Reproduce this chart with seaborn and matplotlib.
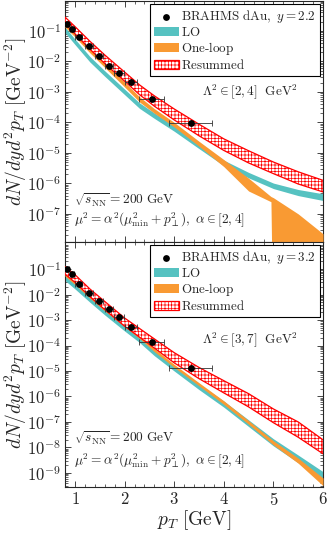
import numpy as np
import matplotlib
matplotlib.use("Agg")
import matplotlib.pyplot as plt
import matplotlib.ticker as mticker
import seaborn as sns

# BRAHMS dAu data points
pt_data = [0.84, 0.93, 1.08, 1.28, 1.48, 1.68, 1.88, 2.13, 2.55, 3.33]
pt_err = [0.03, 0.04, 0.07, 0.08, 0.08, 0.08, 0.10, 0.12, 0.25, 0.43]
yield_y22 = [0.173, 0.116, 0.065, 0.0316, 0.0145, 0.0071, 0.0043, 0.0021, 5.9e-4, 9.3e-5]
yield_y32 = [0.098, 0.064, 0.026, 0.0118, 0.0056, 0.0027, 0.0013, 5.2e-4, 1.4e-4, 1.35e-5]

# theory bands, log10 of dN/dyd^2pT (lower, upper)
pt_grid = [0.8, 1.0, 1.3, 1.6, 2.0, 2.3, 2.6, 3.0, 3.5, 4.0, 4.5, 5.0, 5.5, 6.0]

lo_y22_lo = [-1.06, -1.45, -2.02, -2.49, -3.09, -3.54, -3.87, -4.29, -4.86, -5.42, -5.82, -6.17, -6.40, -6.56]
lo_y22_hi = [-0.88, -1.27, -1.84, -2.31, -2.91, -3.36, -3.69, -4.11, -4.68, -5.24, -5.64, -5.99, -6.20, -6.34]
res_y22_lo = [-0.77, -1.10, -1.60, -2.07, -2.65, -3.09, -3.47, -3.92, -4.44, -4.92, -5.33, -5.68, -6.02, -6.28]
res_y22_hi = [-0.55, -0.86, -1.34, -1.79, -2.35, -2.77, -3.13, -3.56, -4.06, -4.54, -4.93, -5.30, -5.62, -5.90]

pt_1loop_y22 = [0.8, 1.0, 1.3, 1.6, 2.0, 2.3, 2.6, 3.0, 3.5, 4.0, 4.5, 4.95, 5.0, 5.5, 6.0]
oneloop_y22_lo = [-0.88, -1.20, -1.72, -2.20, -2.84, -3.33, -3.70, -4.15, -4.78, -5.45, -6.25, -6.60, -12, -12, -12]
oneloop_y22_hi = [-0.74, -1.07, -1.57, -2.05, -2.68, -3.16, -3.55, -4.00, -4.62, -5.22, -5.83, -6.43, -6.47, -7.00, -7.65]

lo_y32_lo = [-1.45, -1.78, -2.30, -2.80, -3.43, -3.88, -4.40, -5.00, -5.73, -6.42, -7.18, -7.94, -8.60, -9.35]
lo_y32_hi = [-1.25, -1.58, -2.10, -2.60, -3.23, -3.68, -4.20, -4.80, -5.51, -6.18, -6.92, -7.66, -8.30, -8.95]
oneloop_y32_lo = [-1.28, -1.61, -2.14, -2.64, -3.26, -3.72, -4.24, -4.86, -5.58, -6.31, -7.09, -7.90, -8.62, -9.50]
oneloop_y32_hi = [-1.16, -1.49, -2.02, -2.52, -3.14, -3.60, -4.12, -4.74, -5.46, -6.17, -6.95, -7.74, -8.42, -9.20]
res_y32_lo = [-1.20, -1.52, -2.08, -2.59, -3.24, -3.67, -4.10, -4.68, -5.30, -5.86, -6.41, -7.03, -7.60, -8.25]
res_y32_hi = [-0.90, -1.22, -1.78, -2.27, -2.92, -3.33, -3.74, -4.28, -4.86, -5.38, -5.89, -6.49, -7.00, -7.70]

sns.set_style("ticks")
plt.rcParams["font.family"] = "serif"
plt.rcParams["font.serif"] = ["cmr10", "DejaVu Serif"]
plt.rcParams["mathtext.fontset"] = "cm"
plt.rcParams["axes.formatter.use_mathtext"] = True
plt.rcParams["axes.unicode_minus"] = False
plt.rcParams["hatch.linewidth"] = 0.5

c_lo = "#56c2c1"
c_1l = "#f99a33"
c_res = "#ff0000"

fig = plt.figure(figsize=(3.32, 5.36), dpi=100)
ax1 = fig.add_axes([0.196, 0.5485, 0.777, 0.4496])
ax2 = fig.add_axes([0.196, 0.0914, 0.777, 0.457], sharex=ax1)

panels = [
    (ax1, yield_y22, lo_y22_lo, lo_y22_hi, pt_1loop_y22, oneloop_y22_lo, oneloop_y22_hi,
     res_y22_lo, res_y22_hi, "2.2", r"$\Lambda^2 \in [2,4]\ \ \mathrm{GeV}^2$", 1e-3,
     (1.2e-8, 0.95), [10.0**-k for k in range(1, 8)], (0.174, 0.095)),
    (ax2, yield_y32, lo_y32_lo, lo_y32_hi, pt_grid, oneloop_y32_lo, oneloop_y32_hi,
     res_y32_lo, res_y32_hi, "3.2", r"$\Lambda^2 \in [3,7]\ \ \mathrm{GeV}^2$", 1.7e-4,
     (2.8e-10, 1.15), [10.0**-k for k in range(1, 10)], (0.2, 0.11)),
]

for (ax, ydat, lo_l, lo_h, pt1, ol_l, ol_h, rs_l, rs_h, rap, lam, lam_y,
     ylim, yt, txt_y) in panels:
    ax.fill_between(pt_grid, 10.0**np.array(lo_l), 10.0**np.array(lo_h),
                    color=c_lo, lw=0, zorder=2, label="LO")
    ax.fill_between(pt1, 10.0**np.array(ol_l), 10.0**np.array(ol_h),
                    color=c_1l, lw=0, zorder=3, label="One-loop")
    ax.fill_between(pt_grid, 10.0**np.array(rs_l), 10.0**np.array(rs_h),
                    facecolor="white", edgecolor=c_res, hatch="+++++",
                    lw=0.9, zorder=4, label="Resummed")
    ax.errorbar(pt_data, ydat, xerr=pt_err, fmt="none", ecolor="#333333",
                elinewidth=0.6, capsize=2, capthick=0.6, zorder=5)
    sns.scatterplot(x=pt_data, y=ydat, ax=ax, color="black", s=24,
                    edgecolor="black", linewidth=0, zorder=6, label="BRAHMS")
    handles, labels = ax.get_legend_handles_labels()
    order = [labels.index(k) for k in ["BRAHMS", "LO", "One-loop", "Resummed"]]
    leg = ax.legend([handles[i] for i in order],
                    [r"$\mathrm{BRAHMS\ dAu},\ y = " + rap + "$",
                     r"$\mathrm{LO}$", r"$\mathrm{One}$-$\mathrm{loop}$", r"$\mathrm{Resummed}$"],
                    loc="upper right", fontsize=9.4, fancybox=False, framealpha=1,
                    edgecolor="black", borderaxespad=0.25, handlelength=1.9,
                    handletextpad=0.2, labelspacing=0.08, borderpad=0.3)
    leg.get_frame().set_linewidth(0.8)

    ax.text(4.53, lam_y, lam, fontsize=9.5, ha="center", va="center")
    ax.text(0.035, txt_y[0], r"$\sqrt{s_{\mathrm{NN}}} = 200\ \mathrm{GeV}$",
            transform=ax.transAxes, fontsize=9.6, va="center")
    ax.text(0.035, txt_y[1],
            r"$\mu^2 = \alpha^2(\mu^2_{\mathrm{min}} + p_{\perp}^2),\ \alpha \in [2,4]$",
            transform=ax.transAxes, fontsize=9.6, va="center")

    ax.set_yscale("log")
    ax.set_xlim(0.8, 6)
    ax.set_ylim(*ylim)
    ax.set_yticks(yt)
    ax.yaxis.set_minor_locator(mticker.LogLocator(base=10, subs=np.arange(2, 10), numticks=30))
    ax.yaxis.set_minor_formatter(mticker.NullFormatter())
    ax.xaxis.set_major_locator(mticker.MultipleLocator(1))
    ax.xaxis.set_minor_locator(mticker.MultipleLocator(0.2))
    ax.tick_params(which="both", direction="in", top=True, right=True, labelsize=12)
    ax.tick_params(which="major", length=4, width=0.6, pad=3)
    ax.tick_params(which="minor", length=2, width=0.5)
    for s in ax.spines.values():
        s.set_linewidth(0.8)
    ax.set_ylabel(r"$dN/dyd^2p_T\ [\mathrm{GeV}^{-2}]$", fontsize=14)
    ax.yaxis.set_label_coords(-0.14, 0.5)

ax1.tick_params(labelbottom=False)
ax2.set_xlabel(r"$p_T\ [\mathrm{GeV}]$", fontsize=14)
ax2.xaxis.set_label_coords(0.5, -0.085)

fig.savefig("out.png", dpi=100)
